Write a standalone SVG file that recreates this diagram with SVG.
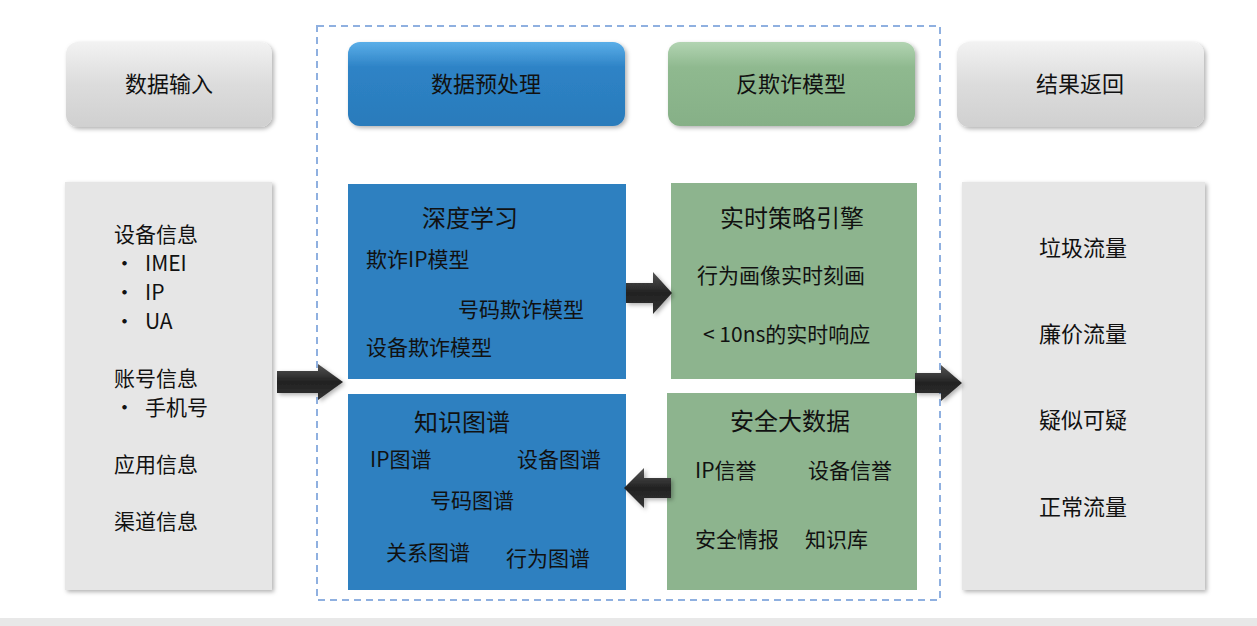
<svg xmlns="http://www.w3.org/2000/svg" width="1257" height="626" viewBox="0 0 1257 626">
<defs>
<linearGradient id="gGray" x1="0" y1="0" x2="0" y2="1"><stop offset="0" stop-color="#f2f2f2"/><stop offset="0.5" stop-color="#dcdcdc"/><stop offset="1" stop-color="#d0d0d0"/></linearGradient>
<linearGradient id="gBlue" x1="0" y1="0" x2="0" y2="1"><stop offset="0" stop-color="#5aaee8"/><stop offset="0.3" stop-color="#2e83c6"/><stop offset="1" stop-color="#2a7bbb"/></linearGradient>
<linearGradient id="gGreen" x1="0" y1="0" x2="0" y2="1"><stop offset="0" stop-color="#b2d4b2"/><stop offset="0.3" stop-color="#8fb98f"/><stop offset="1" stop-color="#86b087"/></linearGradient>
<linearGradient id="gArrow" x1="0" y1="0" x2="0" y2="1"><stop offset="0" stop-color="#555"/><stop offset="0.5" stop-color="#222"/><stop offset="1" stop-color="#333"/></linearGradient>
<filter id="sh" x="-10%" y="-10%" width="125%" height="125%"><feDropShadow dx="2" dy="2" stdDeviation="2" flood-color="#000" flood-opacity="0.3"/></filter>
</defs>
<style>
text{font-family:"Noto Sans CJK SC","Liberation Sans",sans-serif;fill:#111;}
.h{font-size:22px;text-anchor:middle;}
.t{font-size:21px;}
.b{font-size:24px;text-anchor:middle;}
.panel{filter:url(#sh);}
</style>
<rect x="0" y="0" width="1257" height="626" fill="#fff"/>
<rect x="0" y="618" width="1257" height="8" fill="#e8e8e8"/>
<rect x="317" y="26" width="623" height="574" fill="none" stroke="#8fb0e0" stroke-width="2" stroke-dasharray="7,5"/>

<g id="hdr-input"><rect class="panel" x="66" y="42" width="206" height="85" rx="12" fill="url(#gGray)"/><text class="h" x="169" y="92">数据输入</text></g>
<g id="hdr-pre"><rect class="panel" x="348" y="42" width="277" height="84" rx="12" fill="url(#gBlue)"/><text class="h" x="486" y="92">数据预处理</text></g>
<g id="hdr-model"><rect class="panel" x="668" y="42" width="247" height="84" rx="12" fill="url(#gGreen)"/><text class="h" x="791" y="92">反欺诈模型</text></g>
<g id="hdr-result"><rect class="panel" x="957" y="42" width="247" height="85" rx="12" fill="url(#gGray)"/><text class="h" x="1080" y="92">结果返回</text></g>

<g id="input"><rect class="panel" x="65" y="182" width="207" height="408" fill="#e6e6e6"/>
<text class="t" x="114" y="242">设备信息</text>
<text class="t" x="114" y="271">•</text><text class="t" x="145" y="271">IMEI</text>
<text class="t" x="114" y="300">•</text><text class="t" x="145" y="300">IP</text>
<text class="t" x="114" y="329">•</text><text class="t" x="145" y="329">UA</text>
<text class="t" x="114" y="386">账号信息</text>
<text class="t" x="114" y="415">•</text><text class="t" x="145" y="415">手机号</text>
<text class="t" x="114" y="472">应用信息</text>
<text class="t" x="114" y="529">渠道信息</text></g>

<g id="dl"><rect x="348" y="184" width="278" height="195" fill="#2e80c0"/>
<text class="b" x="470" y="227">深度学习</text>
<text class="t" x="366" y="267">欺诈IP模型</text>
<text class="t" x="458" y="317">号码欺诈模型</text>
<text class="t" x="366" y="355">设备欺诈模型</text></g>

<g id="kg"><rect x="348" y="394" width="278" height="196" fill="#2e80c0"/>
<text class="b" x="462" y="431">知识图谱</text>
<text class="t" x="370" y="467">IP图谱</text>
<text class="t" x="517" y="467">设备图谱</text>
<text class="t" x="430" y="508">号码图谱</text>
<text class="t" x="386" y="560">关系图谱</text>
<text class="t" x="506" y="566">行为图谱</text></g>

<g id="rt"><rect x="671" y="183" width="246" height="196" fill="#8db48e"/>
<text class="b" x="792" y="227">实时策略引擎</text>
<text class="t" x="697" y="283">行为画像实时刻画</text>
<text class="t" x="703" y="342">&lt; 10ns的实时响应</text></g>

<g id="sec"><rect x="667" y="393" width="250" height="197" fill="#8db48e"/>
<text class="b" x="790" y="430">安全大数据</text>
<text class="t" x="695" y="478">IP信誉</text>
<text class="t" x="808" y="478">设备信誉</text>
<text class="t" x="695" y="547">安全情报</text>
<text class="t" x="805" y="547">知识库</text></g>

<g id="result"><rect class="panel" x="962" y="182" width="243" height="408" fill="#e6e6e6"/>
<text class="h" x="1083" y="256">垃圾流量</text>
<text class="h" x="1083" y="342">廉价流量</text>
<text class="h" x="1083" y="428">疑似可疑</text>
<text class="h" x="1083" y="515">正常流量</text></g>

<g id="connectors" fill="url(#gArrow)" filter="url(#sh)">
<polygon points="277,371 318,371 318,364 343,382 318,400 318,393 277,393"/>
<polygon points="626,283 653,283 653,272 672,293 653,314 653,303 626,303"/>
<polygon points="671,478 644,478 644,468 624,488 644,508 644,498 671,498"/>
<polygon points="915,373 941,373 941,365 962,383 941,401 941,393 915,393"/>
</g>
</svg>
